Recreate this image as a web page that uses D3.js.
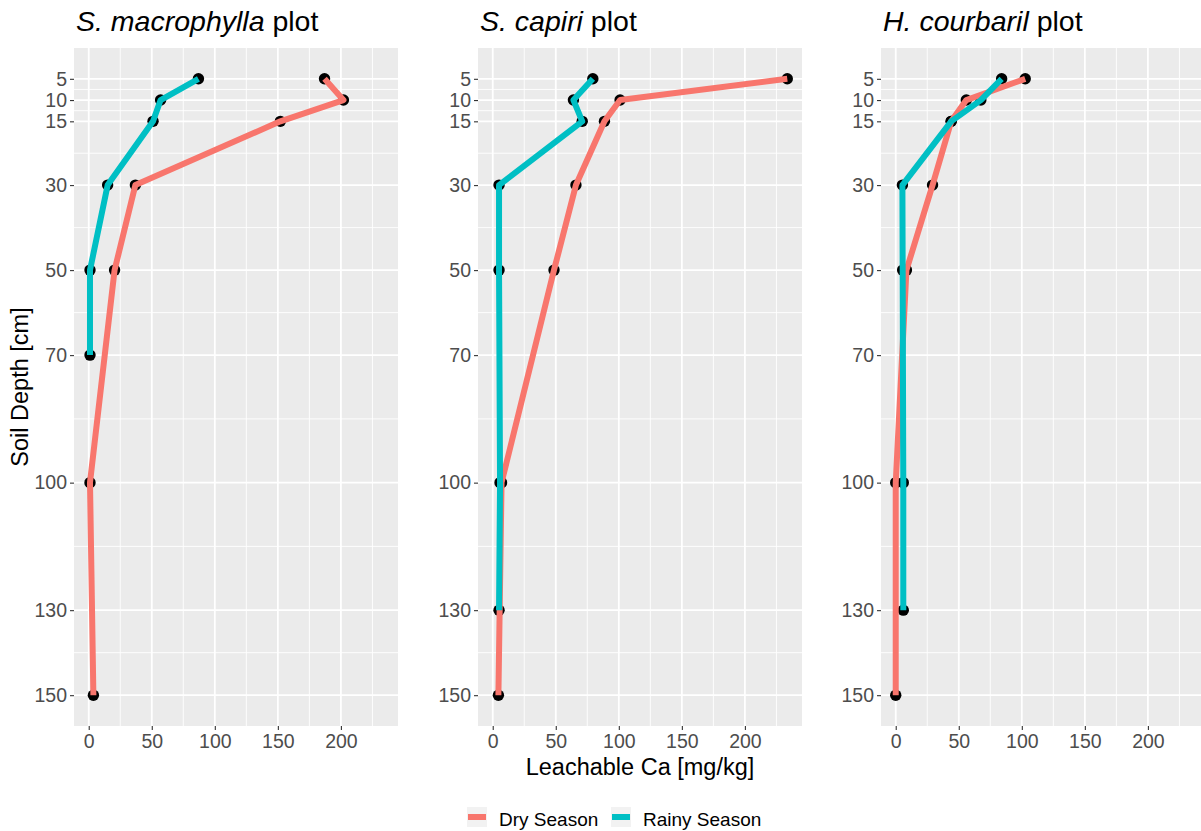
<!DOCTYPE html>
<html>
<head>
<meta charset="utf-8">
<script src="https://cdn.jsdelivr.net/npm/d3@7"></script>
<style>
  html, body { margin: 0; padding: 0; background: #ffffff; }
  svg { display: block; font-family: "Liberation Sans", Arial, sans-serif; }
</style>
</head>
<body>
<svg id="chart" width="1201" height="831"></svg>
<script>
// Depth ticks shared by all panels (cm)
const depthTicks = [5, 10, 15, 30, 50, 70, 100, 130, 150];
const caTicks = [0, 50, 100, 150, 200];

const seasons = ["Dry Season", "Rainy Season"];
const seasonColors = ["#F8766D", "#00BFC4"];

// S. macrophylla plot
const macroDryDepth = [5, 10, 15, 30, 50, 100, 150];
const macroDryCa = [187, 202, 152, 37, 20.5, 1, 3.7];
const macroRainyDepth = [5, 10, 15, 30, 50, 70];
const macroRainyCa = [87, 57, 51, 15, 1, 1];

// S. capiri plot
const capiriDryDepth = [5, 10, 15, 30, 50, 100, 150];
const capiriDryCa = [233.6, 101, 88.6, 66, 48.6, 7, 4.5];
const capiriRainyDepth = [5, 10, 15, 30, 50, 100, 130];
const capiriRainyCa = [79.4, 64, 71, 5, 5, 5.8, 5];

// H. courbaril plot
const courbDryDepth = [5, 10, 15, 30, 50, 100, 150];
const courbDryCa = [102.7, 56, 44, 29.2, 8.5, 0, 0];
const courbRainyDepth = [5, 10, 15, 30, 50, 100, 130];
const courbRainyCa = [84, 67.5, 44, 5.3, 5.5, 6, 6];

const zip = (d, v) => d.map((depth, i) => ({ depth, ca: v[i] }));

const panels = [
  { italic: "S. macrophylla", series: [zip(macroDryDepth, macroDryCa), zip(macroRainyDepth, macroRainyCa)] },
  { italic: "S. capiri", series: [zip(capiriDryDepth, capiriDryCa), zip(capiriRainyDepth, capiriRainyCa)] },
  { italic: "H. courbaril", series: [zip(courbDryDepth, courbDryCa), zip(courbRainyDepth, courbRainyCa)] }
];

const svg = d3.select("#chart");
svg.append("rect").attr("width", 1201).attr("height", 831).attr("fill", "#ffffff");

const panelLefts = [74, 478, 881];
const panelW = 324;
const panelTop = 48, panelBottom = 726;

// shared ranges with 5% expansion, like the ggplot defaults
const allCa = panels.flatMap(p => p.series.flat().map(d => d.ca));
const caMax = d3.max(allCa), caMin = Math.min(0, d3.min(allCa));
const caPad = (caMax - caMin) * 0.05;
const dMin = d3.min(depthTicks), dMax = d3.max(depthTicks);
const dPad = (dMax - dMin) * 0.05;

const y = d3.scaleLinear().domain([dMin - dPad, dMax + dPad]).range([panelTop, panelBottom]);

const minorOf = ticks => ticks.slice(1).map((t, i) => (t + ticks[i]) / 2);
const depthMinor = minorOf(depthTicks);
const caMinor = minorOf(caTicks).concat([caTicks[caTicks.length - 1] + 25]);

panels.forEach((p, pi) => {
  const left = panelLefts[pi];
  const x = d3.scaleLinear().domain([caMin - caPad, caMax + caPad]).range([left, left + panelW]);
  const g = svg.append("g");

  g.append("rect").attr("x", left).attr("y", panelTop).attr("width", panelW).attr("height", panelBottom - panelTop)
    .attr("fill", "#EBEBEB");

  // minor grid
  g.selectAll(".hmin").data(depthMinor).join("line")
    .attr("x1", left).attr("x2", left + panelW)
    .attr("y1", d => y(d)).attr("y2", d => y(d))
    .attr("stroke", "#ffffff").attr("stroke-width", 0.9);
  g.selectAll(".vmin").data(caMinor.filter(v => x(v) <= left + panelW)).join("line")
    .attr("y1", panelTop).attr("y2", panelBottom)
    .attr("x1", d => x(d)).attr("x2", d => x(d))
    .attr("stroke", "#ffffff").attr("stroke-width", 0.9);
  // major grid
  g.selectAll(".hmaj").data(depthTicks).join("line")
    .attr("x1", left).attr("x2", left + panelW)
    .attr("y1", d => y(d)).attr("y2", d => y(d))
    .attr("stroke", "#ffffff").attr("stroke-width", 1.8);
  g.selectAll(".vmaj").data(caTicks).join("line")
    .attr("y1", panelTop).attr("y2", panelBottom)
    .attr("x1", d => x(d)).attr("x2", d => x(d))
    .attr("stroke", "#ffffff").attr("stroke-width", 1.8);

  // points underneath the lines
  p.series.forEach(s => {
    g.selectAll(null).data(s).join("circle")
      .attr("cx", d => x(d.ca)).attr("cy", d => y(d.depth)).attr("r", 5.7)
      .attr("fill", "#000000");
  });
  const line = d3.line().x(d => x(d.ca)).y(d => y(d.depth));
  p.series.forEach((s, si) => {
    g.append("path").attr("d", line(s))
      .attr("fill", "none").attr("stroke", seasonColors[si]).attr("stroke-width", 6)
      .attr("stroke-linejoin", "round").attr("stroke-linecap", "butt");
  });

  // axes
  const ay = g.append("g").attr("transform", `translate(${left},0)`)
    .call(d3.axisLeft(y).tickValues(depthTicks).tickSize(4).tickPadding(3));
  const ax = g.append("g").attr("transform", `translate(0,${panelBottom})`)
    .call(d3.axisBottom(x).tickValues(caTicks).tickSize(4).tickPadding(4));
  [ay, ax].forEach(a => {
    a.select(".domain").remove();
    a.selectAll(".tick line").attr("stroke", "#333333").attr("stroke-width", 1.1);
    a.selectAll(".tick text").attr("fill", "#4D4D4D").attr("font-size", 19.5)
      .attr("font-family", "Liberation Sans, Arial, sans-serif");
  });

  // panel title
  const t = svg.append("text").attr("x", left + 2).attr("y", 31)
    .attr("font-size", 28.5).attr("fill", "#000000");
  t.append("tspan").attr("font-style", "italic").text(p.italic);
  t.append("tspan").text(" plot");
});

// axis titles
svg.append("text").attr("x", panelLefts[1] + panelW / 2).attr("y", 775)
  .attr("text-anchor", "middle").attr("font-size", 23.5).attr("fill", "#000000")
  .text("Leachable Ca [mg/kg]");
svg.append("text").attr("transform", `translate(28,${(panelTop + panelBottom) / 2}) rotate(-90)`)
  .attr("text-anchor", "middle").attr("font-size", 23.5).attr("fill", "#000000")
  .text("Soil Depth [cm]");

// legend
const legendX = [467, 611];
seasons.forEach((s, i) => {
  const lg = svg.append("g").attr("transform", `translate(${legendX[i]},807)`);
  lg.append("rect").attr("width", 20).attr("height", 20).attr("fill", "#F2F2F2");
  lg.append("line").attr("x1", 1).attr("x2", 19).attr("y1", 10).attr("y2", 10)
    .attr("stroke", seasonColors[i]).attr("stroke-width", 6);
  lg.append("text").attr("x", 32).attr("y", 18.5).attr("font-size", 19).attr("fill", "#000000").text(s);
});
</script>
</body>
</html>
